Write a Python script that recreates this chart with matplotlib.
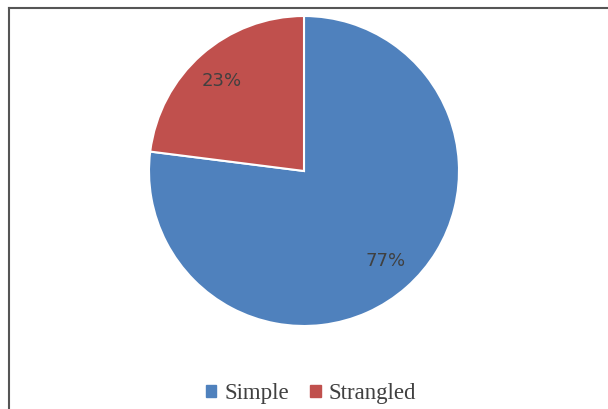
import numpy as np
import matplotlib.pyplot as plt
from matplotlib.lines import Line2D
from matplotlib.patches import Rectangle

labels = ["Simple", "Strangled"]
shares = [77, 23]
colors = ["#4F81BD", "#C0504D"]

W, H = 608, 409
fig = plt.figure(figsize=(W / 100, H / 100), dpi=100)

# pie area: centre (304, 171), radius 155 px
cx, cy, r = 304, 171, 155
ax = fig.add_axes([(cx - r) / W, (H - cy - r) / H, 2 * r / W, 2 * r / H])
wedges, texts = ax.pie(shares, colors=colors, startangle=90, counterclock=False,
                       wedgeprops=dict(edgecolor="white", linewidth=1.5))
ax.set_xlim(-1, 1)
ax.set_ylim(-1, 1)
ax.set_aspect("equal")
for w, s in zip(wedges, shares):
    ang = np.deg2rad((w.theta1 + w.theta2) / 2)
    ax.text(0.8 * np.cos(ang), 0.77 * np.sin(ang), f"{s}%", ha="center", va="center",
            fontsize=13, color="#404040", family="DejaVu Sans")

# chart border (left and top only visible)
fig.add_artist(Line2D([8.5 / W, 8.5 / W], [0, 1 - 7.5 / H], transform=fig.transFigure,
                      color="#555555", lw=1.5))
fig.add_artist(Line2D([8.5 / W, 1], [1 - 7.5 / H, 1 - 7.5 / H], transform=fig.transFigure,
                      color="#555555", lw=1.5))

# legend
handles = [Rectangle((0, 0), 1, 1, color=c) for c in colors]
fig.legend(handles, labels, loc="center", bbox_to_anchor=(311 / W, 1 - 394 / H),
           ncol=2, frameon=False, handlelength=0.45, handleheight=0.45, handletextpad=0.35,
           columnspacing=0.95, prop=dict(family="Liberation Serif", size=16.5),
           labelcolor="#404040")

fig.savefig("out.png", dpi=100)
